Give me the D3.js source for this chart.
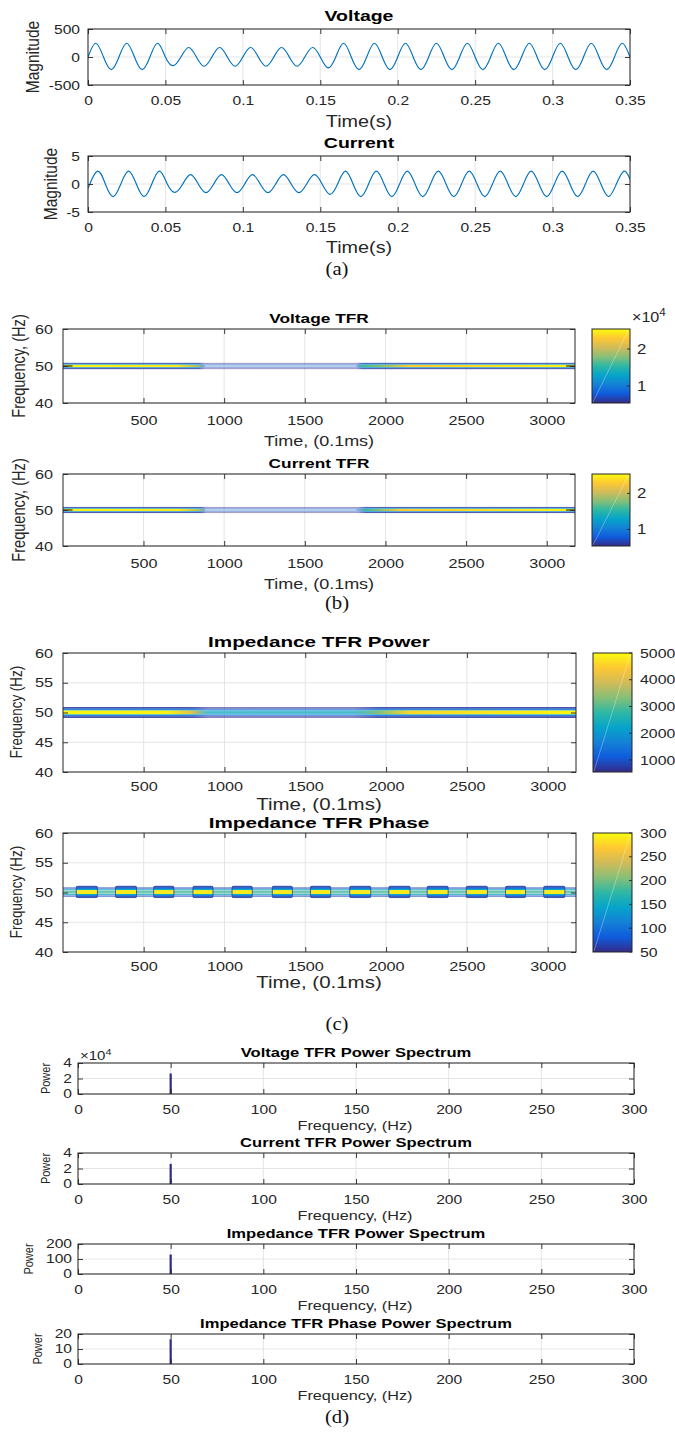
<!DOCTYPE html>
<html><head><meta charset="utf-8">
<script src="https://cdn.jsdelivr.net/npm/d3@7"></script>
<style>html,body{margin:0;padding:0;background:#fff;} svg{display:block;}</style>
</head><body>
<script>
// ================= DATA =================
// (a) waveforms
const timeTicks = [0, 0.05, 0.1, 0.15, 0.2, 0.25, 0.3, 0.35];
const voltageTicks = [-500, 0, 500];
const currentTicks = [-5, 0, 5];
const halfCycle = 0.01;            // s, 50 Hz half period
// peak value of each half cycle
const voltageExtrema = [245,-225,245,-225,245,
  -155,170,-165,170,-165,170,-165,170,-165,170,
  -195,
  245,-225,245,-225,245,-225,245,-225,245,-225,245,-225,245,-225,245,-225,245,-225,245];
const currentExtrema = [2.3,-2.25,2.3,-2.25,2.3,
  -1.5,1.67,-1.55,1.67,-1.55,1.67,-1.55,1.67,-1.55,1.67,
  -1.85,
  2.3,-2.25,2.3,-2.25,2.3,-2.25,2.3,-2.25,2.3,-2.25,2.3,-2.25,2.3,-2.25,2.3,-2.25,2.3,-2.25,2.3];
const voltageStart = 0, voltageEnd = 0, voltageLag = 0;
const currentStart = -0.77, currentEnd = 0.85, currentLag = 0.0012;

// (b),(c) time-frequency representations
const tfrTimeTicks = [500, 1000, 1500, 2000, 2500, 3000];
const tfrFreqTicks = [40, 50, 60];
const impFreqTicks = [40, 45, 50, 55, 60];
const tfrTimeDomain = [1, 3175];
const tfrFreqDomain = [40, 60];

const vtfrEdges = [50.85, 50.62, 50.45, 50.3, 49.7, 49.55, 49.38, 49.15];   // Hz, row boundaries
const vtfrTimes = [1, 700, 840, 880, 1820, 1860, 2150, 3175];
const voltageTFR = [ // x10^4
  [0.6, 0.6, 0.6, 0.55, 0.55, 0.6, 0.6, 0.6],
  [0.9, 0.9, 0.9, 0.6, 0.6, 0.9, 0.9, 0.9],
  [1.4, 1.4, 1.3, 0.7, 0.7, 1.3, 1.4, 1.4],
  [2.5, 2.45, 1.9, 0.9, 0.9, 1.6, 2.3, 2.5],
  [1.4, 1.4, 1.3, 0.7, 0.7, 1.3, 1.4, 1.4],
  [0.9, 0.9, 0.9, 0.6, 0.6, 0.9, 0.9, 0.9],
  [0.6, 0.6, 0.6, 0.55, 0.55, 0.6, 0.6, 0.6]];
const vtfrAlpha = [1, 1, 1, 0.5, 0.5, 1, 1, 1];

const ctfrTimes = [1, 720, 850, 890, 1830, 1880, 2100, 3175];
const currentTFR = [
  [0.6, 0.6, 0.6, 0.55, 0.55, 0.6, 0.6, 0.6],
  [0.9, 0.9, 0.9, 0.6, 0.6, 0.9, 0.9, 0.9],
  [1.4, 1.4, 1.3, 0.7, 0.7, 1.3, 1.4, 1.4],
  [2.5, 2.45, 1.9, 0.9, 0.9, 1.6, 2.3, 2.5],
  [1.4, 1.4, 1.3, 0.7, 0.7, 1.3, 1.4, 1.4],
  [0.9, 0.9, 0.9, 0.6, 0.6, 0.9, 0.9, 0.9],
  [0.6, 0.6, 0.6, 0.55, 0.55, 0.6, 0.6, 0.6]];
const ctfrAlpha = [1, 1, 1, 0.5, 0.5, 1, 1, 1];
const tfrRidgeMid = [[880, 1820]];   // pale ridge line in the low-power section
const tfrEndStubs = [[1, 60], [3120, 3175]];
const tfrCbDomain = [0.54, 2.54];
const tfrCbTicks = [1, 2];

const itfrEdges = [50.9, 50.65, 50.45, 50.32, 49.68, 49.55, 49.35, 49.1];
const itfrTimes = [1, 650, 800, 900, 1800, 1950, 2150, 3175];
const impedanceTFR = [
  [700, 700, 700, 600, 600, 700, 700, 700],
  [1300, 1300, 1300, 1000, 1000, 1300, 1300, 1300],
  [2300, 2300, 2200, 1700, 1700, 2200, 2300, 2300],
  [4950, 4900, 4100, 2300, 2300, 3300, 4600, 4950],
  [2300, 2300, 2200, 1700, 1700, 2200, 2300, 2300],
  [1300, 1300, 1300, 1000, 1000, 1300, 1300, 1300],
  [700, 700, 700, 600, 600, 700, 700, 700]];
const itfrAlpha = [1, 1, 1, 0.7, 0.7, 1, 1, 1];
const impCbDomain = [550, 5000];
const impCbTicks = [1000, 2000, 3000, 4000, 5000];

const phaseBlobStart = [83, 326, 562, 805, 1047, 1296, 1532, 1775, 2017, 2254, 2496, 2739, 2975];
const phaseBlobEnd   = [214, 456, 687, 929, 1172, 1420, 1657, 1905, 2148, 2384, 2627, 2863, 3106];
const phaseBlobEdges = [51.05, 50.8, 50.6, 50.4, 49.75, 49.55, 49.35, 49.15];
const phaseBlobValues = [70, 100, 150, 290, 150, 100, 70];
const phaseLineFreqs = [50.75, 50.45, 50.2, 49.95, 49.7, 49.4];
const phaseLineValues = [70, 150, 185, 185, 150, 70];
const phaseCbDomain = [50, 300];
const phaseCbTicks = [50, 100, 150, 200, 250, 300];

// (d) spectra
const specFreqTicks = [0, 50, 100, 150, 200, 250, 300];
const specFreqs = [50];
const voltageSpec = [2.65];   // x10^4
const currentSpec = [2.6];    // x10^4
const impedanceSpec = [130];
const phaseSpec = [16.5];
const vSpecTicks = [0, 2, 4];
const cSpecTicks = [0, 2, 4];
const iSpecTicks = [0, 100, 200];
const pSpecTicks = [0, 10, 20];

// ================= RENDER =================
const SANS = "'Liberation Sans', Arial, Helvetica, sans-serif";
const SERIF = "'Liberation Serif', 'Times New Roman', serif";
const INK = '#262626';
const GRID = '#e2e2e2';
const PARULA = ["#352a87","#0f5cdd","#1481d6","#06a4ca","#2eb7a4","#87bf77","#d1bb59","#fec832","#f9fb0e"];
function parulaScale(domain) {
  const [a, b] = domain;
  return d3.scaleLinear().domain(PARULA.map((c, i) => a + (b - a) * i / (PARULA.length - 1))).range(PARULA).clamp(true);
}

const svg = d3.select('body').append('svg').attr('width', 675).attr('height', 1436);
svg.append('rect').attr('width', 675).attr('height', 1436).attr('fill', '#fff');
const defs = svg.append('defs');
let uid = 0;

function stretch(sel, k) {
  sel.each(function () {
    const t = d3.select(this);
    const x = +t.attr('x') || 0;
    t.attr('transform', `translate(${x},0) scale(${k},1) translate(${-x},0)`);
  });
}
function label(parent, x, y, str, o = {}) {
  const t = parent.append('text').text(str)
    .attr('font-family', o.family || SANS).attr('font-size', o.size)
    .attr('font-weight', o.weight || 'normal')
    .attr('text-anchor', o.anchor || 'middle').attr('fill', o.fill || INK);
  if (o.rotate) {
    t.attr('x', 0).attr('y', 0).attr('dy', '0.36em')
      .attr('transform', `translate(${x},${y}) scale(${o.k || 1},1) rotate(-90)`);
  } else {
    t.attr('x', x).attr('y', y);
    if (o.k) stretch(t, o.k);
  }
  return t;
}
function expLabel(x, y, size, k) {
  const t = svg.append('text').attr('x', x).attr('y', y).attr('font-family', SANS)
    .attr('font-size', size).attr('fill', INK).attr('text-anchor', 'start');
  t.append('tspan').text('\u00d710');
  t.append('tspan').attr('dy', -size * 0.45).attr('font-size', size * 0.72).text('4');
  stretch(t, k);
}

function makePlot(o) {
  const g = svg.append('g');
  const x = d3.scaleLinear().domain(o.xDomain).range([o.x0, o.x1]);
  const y = d3.scaleLinear().domain(o.yDomain).range([o.y1, o.y0]);
  const grid = g.append('g');
  grid.selectAll('.gx').data(o.xTicks).join('line').attr('class', 'gx')
    .attr('x1', d => x(d)).attr('x2', d => x(d)).attr('y1', o.y0).attr('y2', o.y1);
  grid.selectAll('.gy').data(o.yTicks).join('line').attr('class', 'gy')
    .attr('x1', o.x0).attr('x2', o.x1).attr('y1', d => y(d)).attr('y2', d => y(d));
  grid.selectAll('line').attr('stroke', GRID).attr('stroke-width', 0.9);
  const cid = 'clip' + (++uid);
  defs.append('clipPath').attr('id', cid).append('rect')
    .attr('x', o.x0).attr('y', o.y0).attr('width', o.x1 - o.x0).attr('height', o.y1 - o.y0);
  const content = g.append('g').attr('clip-path', `url(#${cid})`);
  const axes = g.append('g');
  const tk = o.tick || 5;
  const ab = axes.append('g').attr('transform', `translate(0,${o.y1})`)
    .call(d3.axisBottom(x).tickValues(o.xTicks).tickSize(-tk).tickPadding(o.xPad).tickFormat(d => String(d)));
  axes.append('g').attr('transform', `translate(0,${o.y0})`)
    .call(d3.axisTop(x).tickValues(o.xTicks).tickSize(-tk).tickFormat(''));
  const al = axes.append('g').attr('transform', `translate(${o.x0},0)`)
    .call(d3.axisLeft(y).tickValues(o.yTicks).tickSize(-tk).tickPadding(o.yPad).tickFormat(d => String(d)));
  axes.append('g').attr('transform', `translate(${o.x1},0)`)
    .call(d3.axisRight(y).tickValues(o.yTicks).tickSize(-tk).tickFormat(''));
  axes.selectAll('.domain').remove();
  axes.selectAll('.tick line').attr('stroke', INK).attr('stroke-width', 0.9);
  axes.selectAll('text').attr('font-family', SANS).attr('font-size', o.fontSize).attr('fill', INK);
  stretch(ab.selectAll('text'), o.k);
  stretch(al.selectAll('text'), o.k);
  axes.append('rect').attr('x', o.x0).attr('y', o.y0).attr('width', o.x1 - o.x0).attr('height', o.y1 - o.y0)
    .attr('fill', 'none').attr('stroke', INK).attr('stroke-width', 1);
  return { g, x, y, content };
}

function colorbar(o) {
  const y = d3.scaleLinear().domain(o.domain).range([o.y1, o.y0]);
  const gid = 'cb' + (++uid);
  const grad = defs.append('linearGradient').attr('id', gid)
    .attr('x1', 0).attr('y1', 1).attr('x2', 0).attr('y2', 0);
  grad.selectAll('stop').data(PARULA).join('stop')
    .attr('offset', (d, i) => i / (PARULA.length - 1)).attr('stop-color', d => d);
  const g = svg.append('g');
  g.append('rect').attr('x', o.x0).attr('y', o.y0).attr('width', o.x1 - o.x0).attr('height', o.y1 - o.y0)
    .attr('fill', `url(#${gid})`);
  g.append('line').attr('x1', o.x0 + 1).attr('y1', o.y1 - 1).attr('x2', o.x1 - 2).attr('y2', o.y0 + 2)
    .attr('stroke', '#fff').attr('stroke-opacity', 0.45).attr('stroke-width', 0.7);
  g.selectAll('.ct').data(o.ticks).join('line').attr('class', 'ct')
    .attr('x1', o.x1).attr('x2', o.x1 - 3).attr('y1', d => y(d)).attr('y2', d => y(d))
    .attr('stroke', INK).attr('stroke-width', 0.9);
  g.append('rect').attr('x', o.x0).attr('y', o.y0).attr('width', o.x1 - o.x0).attr('height', o.y1 - o.y0)
    .attr('fill', 'none').attr('stroke', INK).attr('stroke-width', 1);
  g.selectAll('.cl').data(o.ticks).join('text').attr('class', 'cl')
    .attr('x', o.x1 + o.pad).attr('y', d => y(d)).attr('dy', '0.36em').text(d => String(d))
    .attr('font-family', SANS).attr('font-size', o.fontSize).attr('fill', INK).attr('text-anchor', 'start')
    .call(s => stretch(s, o.k));
}

function wavePoints(ext, lag, startVal, endVal) {
  const pts = [[0, startVal]];
  ext.forEach((v, k) => {
    const tz = lag + k * halfCycle;
    if (tz > 0) pts.push([tz, 0]);
    pts.push([tz + halfCycle / 2, v]);
  });
  pts.push([timeTicks[timeTicks.length - 1], endVal]);
  return pts;
}

function drawBand(p, edges, times, matrix, alpha, color) {
  const xa = p.x(times[0]), xb = p.x(times[times.length - 1]);
  matrix.forEach((row, i) => {
    const gid = 'bg' + (++uid);
    const grad = defs.append('linearGradient').attr('id', gid).attr('gradientUnits', 'userSpaceOnUse')
      .attr('x1', xa).attr('x2', xb).attr('y1', 0).attr('y2', 0);
    grad.selectAll('stop').data(row).join('stop')
      .attr('offset', (d, j) => (times[j] - times[0]) / (times[times.length - 1] - times[0]))
      .attr('stop-color', d => color(d)).attr('stop-opacity', (d, j) => alpha[j]);
    p.content.append('rect').attr('x', xa).attr('width', xb - xa)
      .attr('y', p.y(edges[i])).attr('height', p.y(edges[i + 1]) - p.y(edges[i]))
      .attr('fill', `url(#${gid})`);
  });
}

// ---------- (a) ----------
const A = { xDomain: [0, 0.35], xTicks: timeTicks, x0: 88, x1: 630, fontSize: 13, k: 1.2, xPad: 10.5, yPad: 8, tick: 5 };
const pV = makePlot({ ...A, yDomain: [-500, 500], yTicks: voltageTicks, y0: 29, y1: 85 });
const pC = makePlot({ ...A, yDomain: [-5, 5], yTicks: currentTicks, y0: 156, y1: 212 });
[[pV, wavePoints(voltageExtrema, voltageLag, voltageStart, voltageEnd)],
 [pC, wavePoints(currentExtrema, currentLag, currentStart, currentEnd)]].forEach(([p, pts]) => {
  p.content.append('path').datum(pts)
    .attr('d', d3.line().x(d => p.x(d[0])).y(d => p.y(d[1])).curve(d3.curveNatural))
    .attr('fill', 'none').attr('stroke', '#0072bd').attr('stroke-width', 1.15);
});
label(svg, 359, 21, 'Voltage', { size: 15, weight: 'bold', k: 1.3, fill: '#000' });
label(svg, 359, 148, 'Current', { size: 15, weight: 'bold', k: 1.3, fill: '#000' });
label(svg, 359, 127, 'Time(s)', { size: 16.5, k: 1.2 });
label(svg, 359, 253, 'Time(s)', { size: 16.5, k: 1.2 });
label(svg, 32, 57, 'Magnitude', { size: 15.5, rotate: true, k: 1.2 });
label(svg, 50, 184, 'Magnitude', { size: 15.5, rotate: true, k: 1.2 });
label(svg, 337, 275, '(a)', { size: 18, family: SERIF, k: 1.15, fill: '#111' });

// ---------- (b) ----------
const B = { xDomain: tfrTimeDomain, xTicks: tfrTimeTicks, yDomain: tfrFreqDomain, yTicks: tfrFreqTicks,
  x0: 63, x1: 575, fontSize: 13.5, k: 1.2, xPad: 12, yPad: 10, tick: 5 };
const pVT = makePlot({ ...B, y0: 329, y1: 403 });
const pCT = makePlot({ ...B, y0: 474, y1: 546 });
const tfrColor = parulaScale(tfrCbDomain);
drawBand(pVT, vtfrEdges, vtfrTimes, voltageTFR, vtfrAlpha, tfrColor);
drawBand(pCT, vtfrEdges, ctfrTimes, currentTFR, ctfrAlpha, tfrColor);
[pVT, pCT].forEach(p => {
  p.content.selectAll('.ridge').data(tfrRidgeMid).join('line').attr('class', 'ridge')
    .attr('x1', d => p.x(d[0])).attr('x2', d => p.x(d[1])).attr('y1', p.y(50)).attr('y2', p.y(50))
    .attr('stroke', '#ffffff').attr('stroke-opacity', 0.85).attr('stroke-width', 0.9);
  p.content.selectAll('.stub').data(tfrEndStubs).join('line').attr('class', 'stub')
    .attr('x1', d => p.x(d[0])).attr('x2', d => p.x(d[1])).attr('y1', p.y(50)).attr('y2', p.y(50))
    .attr('stroke', '#111').attr('stroke-width', 1);
});
colorbar({ x0: 592, x1: 630, y0: 329, y1: 403, domain: tfrCbDomain, ticks: tfrCbTicks, fontSize: 14, k: 1.2, pad: 7 });
colorbar({ x0: 592, x1: 630, y0: 474, y1: 546, domain: tfrCbDomain, ticks: tfrCbTicks, fontSize: 14, k: 1.2, pad: 7 });
expLabel(632, 322, 14, 1.15);
label(svg, 319, 323, 'Voltage TFR', { size: 13, weight: 'bold', k: 1.33, fill: '#000' });
label(svg, 319, 468, 'Current TFR', { size: 13, weight: 'bold', k: 1.33, fill: '#000' });
label(svg, 319, 446, 'Time, (0.1ms)', { size: 15, k: 1.2 });
label(svg, 319, 589, 'Time, (0.1ms)', { size: 15, k: 1.2 });
label(svg, 19, 366, 'Frequency, (Hz)', { size: 14.6, rotate: true, k: 1.2 });
label(svg, 19, 510, 'Frequency, (Hz)', { size: 14.6, rotate: true, k: 1.2 });
label(svg, 337, 609, '(b)', { size: 18, family: SERIF, k: 1.15, fill: '#111' });

// ---------- (c) ----------
const Cc = { xDomain: tfrTimeDomain, xTicks: tfrTimeTicks, yDomain: tfrFreqDomain, yTicks: impFreqTicks,
  x0: 63, x1: 576, fontSize: 13, k: 1.25, xPad: 10, yPad: 10, tick: 5 };
const pIP = makePlot({ ...Cc, y0: 653, y1: 772 });
const pIPh = makePlot({ ...Cc, y0: 833, y1: 952 });
drawBand(pIP, itfrEdges, itfrTimes, impedanceTFR, itfrAlpha, parulaScale(impCbDomain));
const phColor = parulaScale(phaseCbDomain);
pIPh.content.selectAll('.pl').data(phaseLineFreqs).join('line').attr('class', 'pl')
  .attr('x1', pIPh.x(tfrTimeDomain[0])).attr('x2', pIPh.x(tfrTimeDomain[1]))
  .attr('y1', d => pIPh.y(d)).attr('y2', d => pIPh.y(d))
  .attr('stroke', (d, i) => phColor(phaseLineValues[i])).attr('stroke-width', 1);
phaseBlobStart.forEach((t0, i) => {
  const t1 = phaseBlobEnd[i];
  const gb = pIPh.content.append('g');
  gb.selectAll('rect').data(phaseBlobValues).join('rect')
    .attr('x', pIPh.x(t0)).attr('width', pIPh.x(t1) - pIPh.x(t0))
    .attr('y', (d, j) => pIPh.y(phaseBlobEdges[j]))
    .attr('height', (d, j) => pIPh.y(phaseBlobEdges[j + 1]) - pIPh.y(phaseBlobEdges[j]))
    .attr('fill', d => phColor(d));
  gb.append('rect').attr('x', pIPh.x(t0)).attr('width', pIPh.x(t1) - pIPh.x(t0))
    .attr('y', pIPh.y(phaseBlobEdges[0])).attr('height', pIPh.y(phaseBlobEdges[phaseBlobEdges.length - 1]) - pIPh.y(phaseBlobEdges[0]))
    .attr('rx', 1.5).attr('fill', 'none').attr('stroke', '#2f3f9e').attr('stroke-width', 0.8);
});
colorbar({ x0: 593, x1: 632, y0: 653, y1: 772, domain: impCbDomain, ticks: impCbTicks, fontSize: 13, k: 1.22, pad: 8 });
colorbar({ x0: 593, x1: 632, y0: 833, y1: 952, domain: phaseCbDomain, ticks: phaseCbTicks, fontSize: 13, k: 1.22, pad: 8 });
label(svg, 319, 647, 'Impedance TFR Power', { size: 15, weight: 'bold', k: 1.38, fill: '#000' });
label(svg, 319, 828, 'Impedance TFR Phase', { size: 15, weight: 'bold', k: 1.38, fill: '#000' });
label(svg, 319, 810, 'Time, (0.1ms)', { size: 16, k: 1.28 });
label(svg, 319, 988, 'Time, (0.1ms)', { size: 16, k: 1.28 });
label(svg, 16, 712, 'Frequency (Hz)', { size: 13.4, rotate: true, k: 1.2 });
label(svg, 16, 892, 'Frequency (Hz)', { size: 13.4, rotate: true, k: 1.2 });
label(svg, 337, 1030, '(c)', { size: 18, family: SERIF, k: 1.15, fill: '#111' });

// ---------- (d) ----------
const D = { xDomain: [0, 300], xTicks: specFreqTicks, x0: 78, x1: 634, fontSize: 12, k: 1.3, xPad: 11, yPad: 6, tick: 5 };
const specs = [
  { vals: voltageSpec, ticks: vSpecTicks, y0: 1063, y1: 1094, title: 'Voltage TFR Power Spectrum', ylx: 45 },
  { vals: currentSpec, ticks: cSpecTicks, y0: 1153, y1: 1184, title: 'Current TFR Power Spectrum', ylx: 45 },
  { vals: impedanceSpec, ticks: iSpecTicks, y0: 1244, y1: 1274, title: 'Impedance TFR Power Spectrum', ylx: 28 },
  { vals: phaseSpec, ticks: pSpecTicks, y0: 1334, y1: 1364, title: 'Impedance TFR Phase Power Spectrum', ylx: 37 }];
specs.forEach(s => {
  const p = makePlot({ ...D, yDomain: [s.ticks[0], s.ticks[s.ticks.length - 1]], yTicks: s.ticks, y0: s.y0, y1: s.y1 });
  p.content.selectAll('.stem').data(specFreqs).join('line').attr('class', 'stem')
    .attr('x1', d => p.x(d)).attr('x2', d => p.x(d))
    .attr('y1', p.y(0)).attr('y2', (d, i) => p.y(s.vals[i]))
    .attr('stroke', '#2b2a86').attr('stroke-width', 2.2);
  label(svg, 356, s.y0 - 5.5, s.title, { size: 12, weight: 'bold', k: 1.38, fill: '#000' });
  label(svg, 355, s.y1 + 36, 'Frequency, (Hz)', { size: 12, k: 1.35 });
  label(svg, s.ylx, (s.y0 + s.y1) / 2, 'Power', { size: 11, rotate: true, k: 1.2 });
});
expLabel(80, 1060, 12, 1.25);
label(svg, 337, 1423, '(d)', { size: 18, family: SERIF, k: 1.15, fill: '#111' });
</script>
</body></html>
